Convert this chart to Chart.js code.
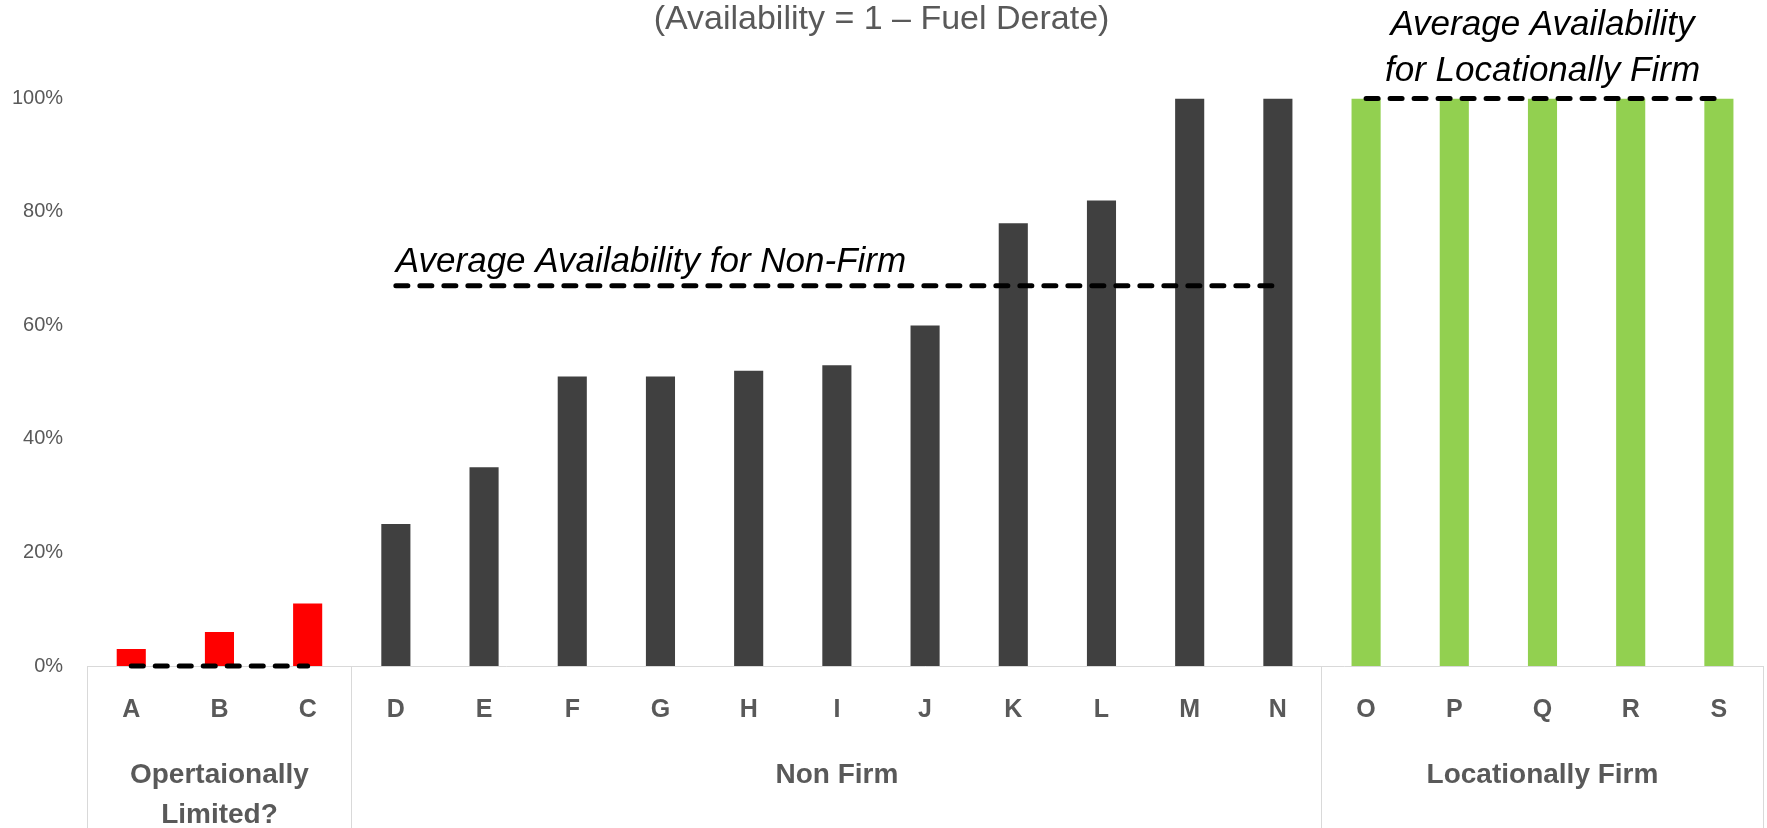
<!DOCTYPE html>
<html>
<head>
<meta charset="utf-8">
<title>Availability</title>
<script src="https://cdn.jsdelivr.net/npm/chart.js@4.4.1/dist/chart.umd.min.js"></script>
<style>
  html, body { margin: 0; padding: 0; background: #fff; }
  #wrap { width: 1767px; height: 828px; position: relative; }
</style>
</head>
<body>
<div id="wrap"><canvas id="availability-chart"></canvas></div>
<script>
// Chart data
const chartTitle = '(Availability = 1 – Fuel Derate)';
const categories = ['A', 'B', 'C', 'D', 'E', 'F', 'G', 'H', 'I', 'J', 'K', 'L', 'M', 'N', 'O', 'P', 'Q', 'R', 'S'];
const availability = [0.03, 0.06, 0.11, 0.25, 0.35, 0.51, 0.51, 0.52, 0.53, 0.60, 0.78, 0.82, 1.00, 1.00, 1.00, 1.00, 1.00, 1.00, 1.00];
const groupNames = [['Opertaionally', 'Limited?'], 'Non Firm', 'Locationally Firm'];
const groupSizes = [3, 11, 5];
const groupColors = ['#FF0000', '#404040', '#92D050'];
const groupAverages = [0, 0.67, 1.00];
const averageNotes = [[], ['Average Availability for Non-Firm'], ['Average Availability', 'for Locationally Firm']];
const yTicks = [0, 0.2, 0.4, 0.6, 0.8, 1.0];

const fontFamily = '"Liberation Sans", Arial, sans-serif';
const labelColor = '#595959';
const boxColor = '#d9d9d9';

Chart.defaults.font.family = fontFamily;

// first category index of every group
let groupStarts = [];
let start = 0;
groupSizes.forEach(n => {
    groupStarts.push(start);
    start += n;
});

function groupOf(index) {
    let g = 0;
    groupStarts.forEach((s, i) => {
        if (index >= s) g = i;
    });
    return g;
}

function groupCenter(g) {
    return groupStarts[g] + (groupSizes[g] - 1) / 2;
}

// Group label only under the middle category of the group
function groupLabelAt(index) {
    let g = groupOf(index);
    return groupCenter(g) === index ? groupNames[g] : '';
}

// Only the lines between groups (and the outer edges) are visible
function boxLineColor(ctx) {
    if (ctx.type !== 'tick' || groupStarts.includes(ctx.index)) return boxColor;
    return 'rgba(0,0,0,0)';
}

let barColors = categories.map((c, i) => groupColors[groupOf(i)]);

let averageDatasets = groupAverages.map((avg, g) => ({
    type: 'line',
    data: categories.map((c, i) => groupOf(i) === g ? avg : null),
    borderColor: '#000',
    borderWidth: 5,
    borderDash: [12, 12],
    borderCapStyle: 'round',
    pointRadius: 0,
    fill: false,
    clip: false,
    order: 1
}));

// Text above the average lines
const notesPlugin = {
    id: 'averageNotes',
    afterDatasetsDraw(chart) {
        let ctx = chart.ctx;
        let x = chart.scales.x;
        let y = chart.scales.y;
        ctx.save();
        ctx.font = 'italic 35px ' + fontFamily;
        ctx.fillStyle = '#000';
        ctx.textBaseline = 'alphabetic';
        averageNotes.forEach((lines, g) => {
            if (!lines.length) return;
            // one-line note starts at the first bar, multi-line note is centred on the group
            let single = lines.length === 1;
            ctx.textAlign = single ? 'left' : 'center';
            let px = x.getPixelForValue(single ? groupStarts[g] : groupCenter(g));
            let py = y.getPixelForValue(groupAverages[g]) - (single ? 14 : 17);
            lines.forEach((line, k) => {
                ctx.fillText(line, px, py - (lines.length - 1 - k) * 46);
            });
        });
        ctx.restore();
    }
};

new Chart(document.getElementById('availability-chart'), {
    type: 'bar',
    data: {
        labels: categories,
        datasets: [{
            data: availability,
            backgroundColor: barColors,
            borderWidth: 0,
            barPercentage: 0.33,
            categoryPercentage: 1,
            order: 2
        }, ...averageDatasets]
    },
    options: {
        responsive: true,
        maintainAspectRatio: false,
        animation: false,
        layout: {
            padding: { left: 0, right: 4, top: 0, bottom: 117.6 }
        },
        plugins: {
            legend: { display: false },
            tooltip: { enabled: false },
            title: {
                display: true,
                text: chartTitle,
                color: labelColor,
                font: { size: 34, weight: 'normal', lineHeight: 0.8 },
                padding: { top: 6, bottom: 65.2 }
            }
        },
        scales: {
            x: {
                offset: true,
                // long tick marks draw the group boxes down to the bottom edge
                grid: { offset: true, drawOnChartArea: false, tickLength: 162, color: boxLineColor },
                border: { display: true, color: boxColor },
                ticks: {
                    mirror: true,
                    padding: -58.8,
                    autoSkip: false,
                    maxRotation: 0,
                    color: labelColor,
                    font: { size: 25, weight: 'bold', lineHeight: 1.2 }
                }
            },
            groups: {
                type: 'category',
                position: 'bottom',
                weight: 1,
                offset: true,
                grid: { display: false, drawTicks: true, tickLength: 170 },
                border: { display: false },
                ticks: {
                    mirror: true,
                    padding: -85,
                    autoSkip: false,
                    maxRotation: 0,
                    color: labelColor,
                    font: { size: 28, weight: 'bold', lineHeight: 40 / 28 },
                    callback: (value, index) => groupLabelAt(index)
                }
            },
            y: {
                min: 0,
                max: 1,
                grid: { display: false, drawTicks: true, tickLength: 12 },
                border: { display: false },
                afterBuildTicks: scale => {
                    scale.ticks = yTicks.map(v => ({ value: v }));
                },
                ticks: {
                    padding: 12,
                    color: labelColor,
                    font: { size: 20 },
                    callback: value => Math.round(value * 100) + '%'
                }
            }
        }
    },
    plugins: [notesPlugin]
});
</script>
</body>
</html>
